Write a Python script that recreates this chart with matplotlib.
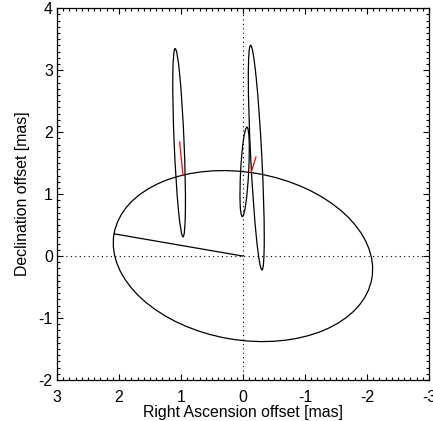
import numpy as np
import matplotlib
matplotlib.use("Agg")
import matplotlib.pyplot as plt
from matplotlib.patches import Ellipse
from matplotlib.ticker import MultipleLocator

plt.rcParams['font.family'] = ['Liberation Sans', 'DejaVu Sans']
plt.rcParams['axes.unicode_minus'] = False

# projected orbit (centred on origin): semi-major, semi-minor, angle [deg]
orbit_a = 2.11
orbit_b = 1.352
orbit_pa = 9.8

# measured positions: centre x, centre y, semi-major, semi-minor, angle [deg]
meas_x = [1.03, -0.027, -0.215]
meas_y = [1.83, 1.36, 1.59]
meas_a = [1.52, 0.723, 1.815]
meas_b = [0.08, 0.065, 0.09]
meas_pa = [87.6, 93.0, 87.1]

# predicted orbit positions (start of red residual lines)
pred_x = [0.968, -0.134]
pred_y = [1.31, 1.355]
res_x = [1.021, -0.21]
res_y = [1.84, 1.60]

fs = 11.4

fig = plt.figure(figsize=(4.33, 4.21), dpi=100)
ax = fig.add_axes([0.1316, 0.0974, 0.859, 0.883])

ax.axhline(0, color='black', lw=0.8, ls=(0, (1, 3)))
ax.axvline(0, color='black', lw=0.8, ls=(0, (1, 3)))

ax.add_patch(Ellipse((0, 0), 2 * orbit_a, 2 * orbit_b, angle=orbit_pa,
                     fill=False, ec='black', lw=0.9))
t = np.deg2rad(orbit_pa)
ax.plot([0, orbit_a * np.cos(t)], [0, orbit_a * np.sin(t)], color='black', lw=0.9)

for i in range(len(meas_x)):
    ax.add_patch(Ellipse((meas_x[i], meas_y[i]), 2 * meas_a[i], 2 * meas_b[i],
                         angle=meas_pa[i], fill=False, ec='black', lw=0.9))

for i in range(len(pred_x)):
    ax.plot([pred_x[i], res_x[i]], [pred_y[i], res_y[i]], color='red', lw=0.9)

ax.set_xlim(3, -3)
ax.set_ylim(-2, 4)
ax.xaxis.set_major_locator(MultipleLocator(1))
ax.xaxis.set_minor_locator(MultipleLocator(0.1))
ax.yaxis.set_major_locator(MultipleLocator(1))
ax.yaxis.set_minor_locator(MultipleLocator(0.1))
ax.tick_params(which='both', direction='in', top=True, right=True, width=0.8)
ax.tick_params(which='major', length=4.5)
ax.tick_params(which='minor', length=2.2)
ax.tick_params(axis='x', which='major', pad=7.5, labelsize=fs)
ax.tick_params(axis='y', which='major', pad=3, labelsize=fs)
for s in ax.spines.values():
    s.set_linewidth(0.9)

ax.set_xlabel('Right Ascension offset [mas]', fontsize=fs, labelpad=0)
ax.set_ylabel('Declination offset [mas]', fontsize=fs, labelpad=6)

fig.savefig('out.png', dpi=100)
